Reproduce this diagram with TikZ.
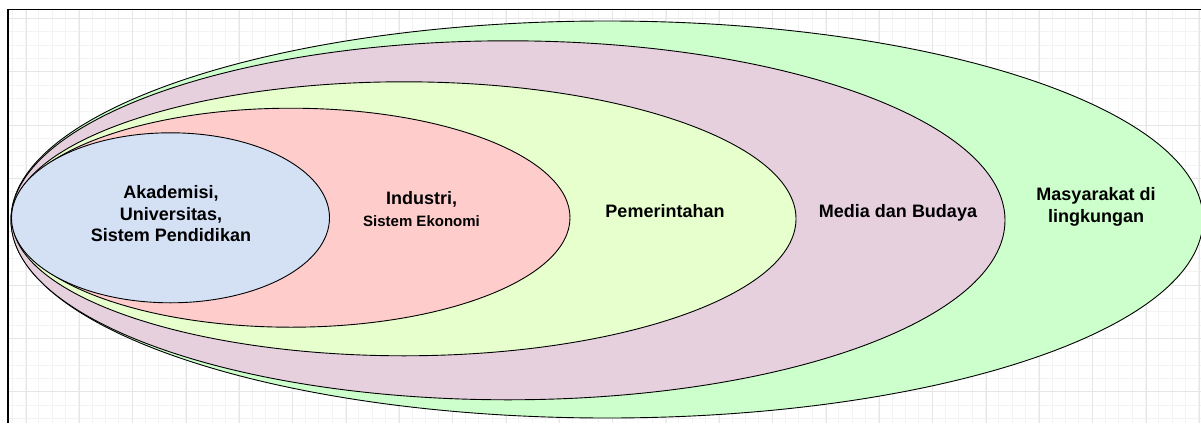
\documentclass[tikz,border=0pt]{standalone}
\usepackage{fontspec}
\setmainfont{Liberation Sans}
\usetikzlibrary{shapes.geometric}
\definecolor{cgreen}{HTML}{CCFFCC}
\definecolor{cpurple}{HTML}{E6D0DE}
\definecolor{cyellow}{HTML}{E6FFCC}
\definecolor{cred}{HTML}{FFCCCC}
\definecolor{cblue}{HTML}{D4E1F5}
\definecolor{gminor}{HTML}{F3F3F3}
\definecolor{gmajor}{HTML}{E6E6E6}
\tikzset{
  ring/.style={ellipse, draw=black, line width=0.9pt, inner sep=0pt},
  lbl/.style={align=center, font=\bfseries\fontsize{18}{21.5}\selectfont, inner sep=0pt},
  gridminor/.style={draw=gminor, line width=0.8pt},
  gridmajor/.style={draw=gmajor, line width=0.9pt},
}
\begin{document}
\begin{tikzpicture}[x=1pt,y=-1pt]
\useasboundingbox (0,0) rectangle (1201,423);
\fill[white] (0,0) rectangle (1201,423);
% grid
\foreach \i in {0,...,89} {\draw[gridminor] ({12+13.333*\i},9.5) -- ({12+13.333*\i},423);}
\foreach \i in {0,...,30} {\draw[gridminor] (8,{18.4+13.333*\i}) -- (1201,{18.4+13.333*\i});}
\foreach \i in {0,...,22} {\draw[gridmajor] ({26+53.333*\i},9.5) -- ({26+53.333*\i},423);}
\foreach \i in {0,...,7} {\draw[gridmajor] (8,{18.4+53.333*\i}) -- (1201,{18.4+53.333*\i});}
% frame
\draw[black, line width=1.2pt] (8,423) -- (8,9.5) -- (1201,9.5);
% ellipses
\node[ring, fill=cgreen, minimum width=1192pt, minimum height=397pt] (masy) at (607,219.5) {};
\node[ring, fill=cpurple, minimum width=994pt, minimum height=359pt] (media) at (508,220.3) {};
\node[ring, fill=cyellow, minimum width=784pt, minimum height=274pt] (pem) at (404,218.8) {};
\node[ring, fill=cred, minimum width=558pt, minimum height=219pt] (ind) at (291,217.7) {};
\node[ring, fill=cblue, minimum width=318pt, minimum height=170pt] (aka) at (170.5,217.8) {};
% labels
\node[lbl] (takad) at (171,214) {Akademisi,\\Universitas,\\Sistem Pendidikan};
\node[lbl] (tind) at (421.5,209) {Industri,\\{\fontsize{15}{18}\selectfont Sistem Ekonomi}};
\node[lbl] (tpem) at (665,211) {Pemerintahan};
\node[lbl] (tmed) at (898,213) {Media dan Budaya};
\node[lbl] (tmas) at (1096,207) {Masyarakat di\\lingkungan};
\end{tikzpicture}
\end{document}
